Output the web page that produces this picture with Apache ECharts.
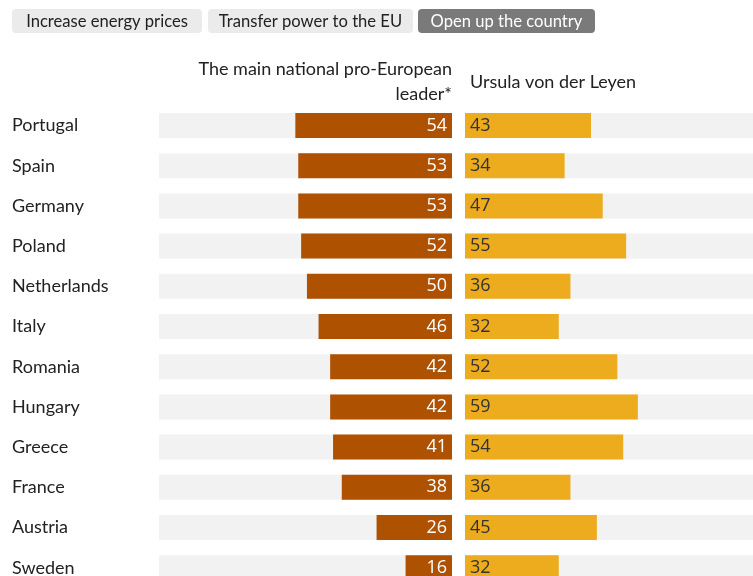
<!DOCTYPE html>
<html>
<head>
<meta charset="utf-8">
<script src="https://cdn.jsdelivr.net/npm/echarts@6/dist/echarts.min.js"></script>
<style>
  html, body { margin: 0; padding: 0; background: #ffffff; }
  #chart { width: 753px; height: 576px; }
</style>
</head>
<body>
<div id="chart"></div>
<script>
// Survey results per country: trust in the main national pro-European leader vs. Ursula von der Leyen
const countries = ['Portugal', 'Spain', 'Germany', 'Poland', 'Netherlands', 'Italy',
  'Romania', 'Hungary', 'Greece', 'France', 'Austria', 'Sweden'];
const nationalLeader = [54, 53, 53, 52, 50, 46, 42, 42, 41, 38, 26, 16];
const vonDerLeyen = [43, 34, 47, 55, 36, 32, 52, 59, 54, 36, 45, 32];
const tabs = ['Increase energy prices', 'Transfer power to the EU', 'Open up the country'];
const activeTab = 2;
const headers = ['The main national pro-European\nleader*', 'Ursula von der Leyen'];

const FONT = 'Lato, "Noto Sans", sans-serif';
const NUM_FONT = '"Open Sans", "Noto Sans", sans-serif';

const chart = echarts.init(document.getElementById('chart'), null, { renderer: 'canvas' });

// Tab buttons along the top
const tabX = [12, 208, 418];
const tabW = [190, 205, 177];
const tabGraphics = tabs.map((t, i) => ({
  type: 'group',
  x: tabX[i], y: 9,
  children: [
    { type: 'rect', shape: { x: 0, y: 0, width: tabW[i], height: 24, r: 4 },
      style: { fill: i === activeTab ? '#7a7a7a' : '#ebebeb' } },
    { type: 'text', x: tabW[i] / 2, y: 12.5,
      style: { text: t, fontFamily: FONT, fontSize: 16.6, fill: i === activeTab ? '#ffffff' : '#222222',
        align: 'center', verticalAlign: 'middle' } }
  ]
}));

// Rows are 40.2px apart; the last row runs past the bottom edge
const rowTop = 105.4;
const rowHeight = 40.2 * countries.length;

chart.setOption({
  animation: false,
  graphic: [
    ...tabGraphics,
    { type: 'text', x: 452, y: 57,
      style: { text: headers[0], fontFamily: FONT, fontSize: 18, fill: '#222222',
        align: 'right', verticalAlign: 'top', lineHeight: 25 } },
    { type: 'text', x: 470, y: 70,
      style: { text: headers[1], fontFamily: FONT, fontSize: 18, fill: '#222222',
        align: 'left', verticalAlign: 'top', lineHeight: 25 } }
  ],
  grid: [
    { left: 159, width: 293, top: rowTop, height: rowHeight, outerBoundsMode: 'none', containLabel: false },
    { left: 465, width: 293, top: rowTop, height: rowHeight, outerBoundsMode: 'none', containLabel: false }
  ],
  xAxis: [
    { gridIndex: 0, type: 'value', min: 0, max: 101, inverse: true, show: false },
    { gridIndex: 1, type: 'value', min: 0, max: 100, show: false }
  ],
  yAxis: [
    { gridIndex: 0, type: 'category', data: countries, inverse: true,
      axisLine: { show: false }, axisTick: { show: false }, splitLine: { show: false },
      axisLabel: { align: 'left', margin: 147, fontFamily: FONT, fontSize: 18, color: '#222222' } },
    { gridIndex: 1, type: 'category', data: countries, inverse: true, show: false }
  ],
  series: [
    { type: 'bar', xAxisIndex: 0, yAxisIndex: 0, data: nationalLeader, barWidth: 25,
      itemStyle: { color: '#ae5100' },
      showBackground: true, backgroundStyle: { color: '#f2f2f2' },
      label: { show: true, position: 'insideRight', distance: 5, color: '#ffffff',
        fontFamily: NUM_FONT, fontSize: 18 } },
    { type: 'bar', xAxisIndex: 1, yAxisIndex: 1, data: vonDerLeyen, barWidth: 25,
      itemStyle: { color: '#edac1e' },
      showBackground: true, backgroundStyle: { color: '#f2f2f2' },
      label: { show: true, position: 'insideLeft', distance: 5, color: '#333333',
        fontFamily: NUM_FONT, fontSize: 18 } }
  ]
});
</script>
</body>
</html>
